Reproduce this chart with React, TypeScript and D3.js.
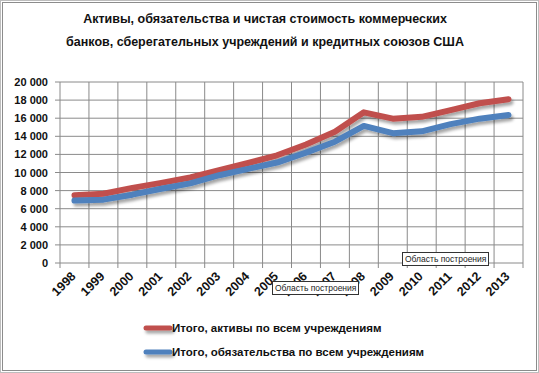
import React, { useEffect, useRef } from 'react';
import * as d3 from 'd3';

const years = ['1998', '1999', '2000', '2001', '2002', '2003', '2004', '2005', '2006', '2007', '2008', '2009', '2010', '2011', '2012', '2013'];
const assets = [7500, 7650, 8300, 8850, 9450, 10250, 11050, 11900, 13100, 14500, 16650, 15950, 16150, 16900, 17650, 18100];
const liabilities = [6900, 7000, 7550, 8200, 8800, 9700, 10400, 11100, 12200, 13400, 15150, 14350, 14550, 15350, 15950, 16350];
const yTicks = [0, 2000, 4000, 6000, 8000, 10000, 12000, 14000, 16000, 18000, 20000];
const legendLabels = ['Итого, активы по всем учреждениям', 'Итого, обязательства по всем учреждениям'];
const colors = ['#C0504D', '#4F81BD'];

const W = 539;
const H = 373;

export default function App() {
  const ref = useRef<SVGSVGElement>(null);

  useEffect(() => {
    const svg = d3.select(ref.current);
    svg.selectAll('*').remove();

    const font = '"Liberation Sans", Arial, sans-serif';
    const left = 60, right = 523, top = 82, bottom = 263;

    const defs = svg.append('defs');
    const f = defs.append('filter').attr('id', 'shadow').attr('filterUnits', 'userSpaceOnUse')
      .attr('x', 0).attr('y', 0).attr('width', W).attr('height', H);
    f.append('feDropShadow').attr('dx', 2).attr('dy', 3).attr('stdDeviation', 1.5).attr('flood-color', '#000').attr('flood-opacity', 0.35);

    svg.append('rect').attr('x', 0.5).attr('y', 0.5).attr('width', W - 1).attr('height', H - 1)
      .attr('fill', '#fff').attr('stroke', '#bdbdbd');
    svg.append('rect').attr('x', 2.5).attr('y', 2.5).attr('width', W - 5).attr('height', H - 5)
      .attr('fill', 'none').attr('stroke', '#8c8c8c');

    const title = svg.append('text').attr('text-anchor', 'middle').attr('font-family', font)
      .attr('font-weight', 'bold').attr('font-size', 12.5).attr('fill', '#111');
    title.append('tspan').attr('x', 265).attr('y', 23).text('Активы, обязательства  и чистая стоимость коммерческих');
    title.append('tspan').attr('x', 265).attr('y', 46).text('банков, сберегательных учреждений и кредитных союзов США');

    const x = d3.scaleBand().domain(years).range([left, right]);
    const y = d3.scaleLinear().domain([0, 20000]).range([bottom, top]);

    const g = svg.append('g');
    // horizontal grid
    g.selectAll('.hg').data(yTicks).enter().append('line')
      .attr('x1', left - 5).attr('x2', right)
      .attr('y1', (d) => y(d)).attr('y2', (d) => y(d))
      .attr('stroke', '#8a8a8a').attr('stroke-width', 1);
    // vertical grid at category boundaries
    const bounds = years.map((yr) => x(yr) as number).concat([right]);
    g.selectAll('.vg').data(bounds).enter().append('line')
      .attr('x1', (d) => d).attr('x2', (d) => d)
      .attr('y1', top).attr('y2', bottom + 5)
      .attr('stroke', '#8a8a8a').attr('stroke-width', 1);

    const fmt = (v: number) => d3.format(',')(v).replace(/,/g, ' ');
    g.selectAll('.yl').data(yTicks).enter().append('text')
      .attr('x', 48).attr('y', (d) => y(d) + 4)
      .attr('text-anchor', 'end').attr('font-family', font).attr('font-weight', 'bold')
      .attr('font-size', 11).attr('fill', '#111').text((d) => fmt(d));

    g.selectAll('.xl').data(years).enter().append('text')
      .attr('transform', (d) => `translate(${(x(d) as number) + x.bandwidth() / 2 + 2},${bottom + 14}) rotate(-45)`)
      .attr('text-anchor', 'end').attr('font-family', font).attr('font-weight', 'bold')
      .attr('font-size', 12.5).attr('fill', '#111').text((d) => d);

    const line = d3.line<number>()
      .x((_, i) => (x(years[i]) as number) + x.bandwidth() / 2)
      .y((d) => y(d));

    [assets, liabilities].forEach((s, i) => {
      g.append('path').attr('d', line(s)).attr('fill', 'none')
        .attr('stroke', colors[i]).attr('stroke-width', 6)
        .attr('stroke-linecap', 'round').attr('stroke-linejoin', 'round')
        .attr('filter', 'url(#shadow)');
    });

    // tooltips
    const tips = [
      { x: 402, y: 252 },
      { x: 272, y: 281 },
    ];
    tips.forEach((t) => {
      svg.append('rect').attr('x', t.x + 0.5).attr('y', t.y + 0.5).attr('width', 86).attr('height', 13)
        .attr('fill', '#fff').attr('stroke', '#333');
      svg.append('text').attr('x', t.x + 3).attr('y', t.y + 10).attr('font-family', font)
        .attr('font-size', 8.5).attr('fill', '#222').text('Область построения');
    });

    // legend
    legendLabels.forEach((lab, i) => {
      const ly = 328 + i * 24;
      svg.append('line').attr('x1', 146).attr('x2', 170).attr('y1', ly).attr('y2', ly)
        .attr('stroke', colors[i]).attr('stroke-width', 5).attr('stroke-linecap', 'round')
        .attr('filter', 'url(#shadow)');
      svg.append('text').attr('x', 172).attr('y', ly + 4).attr('font-family', font)
        .attr('font-weight', 'bold').attr('font-size', 11.5).attr('fill', '#111').text(lab);
    });
  }, []);

  return <svg ref={ref} width={W} height={H} style={{ position: 'absolute', left: 0, top: 0 }} />;
}
